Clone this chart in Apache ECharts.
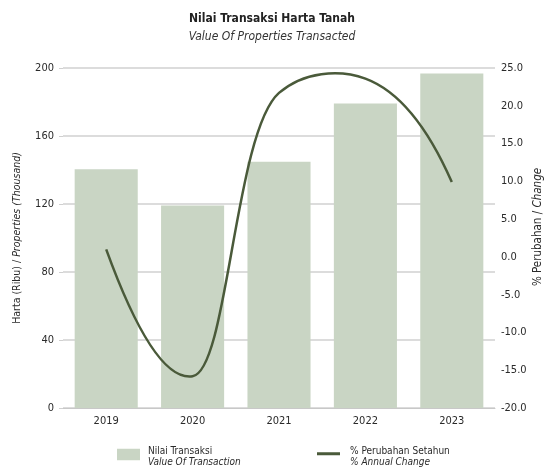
<!DOCTYPE html>
<html>
<head>
<meta charset="utf-8">
<script src="https://cdn.jsdelivr.net/npm/echarts@6/dist/echarts.min.js"></script>
<style>html,body{margin:0;padding:0;background:#fff;}#c{width:544px;height:467px;}</style>
</head>
<body>
<div id="c"></div>
<script>
var categories = ['2019', '2020', '2021', '2022', '2023'];
var transactionValues = [140.4, 119.1, 144.9, 179.1, 196.8];
var annualChange = [1.0, -15.8, 21.7, 23.6, 9.9];
var leftTicks = [0, 40, 80, 120, 160, 200];
var rightTicks = [-20, -15, -10, -5, 0, 5, 10, 15, 20, 25];

var FONT = '"Liberation Sans Narrow", "DejaVu Sans Condensed", "Liberation Sans", sans-serif';
var TXT = '#2a2a2a';
var LINE = '#4a5a3a';

// Centripetal Catmull-Rom spline through the projected points, as cubic beziers.
function smoothPath(pts) {
  var n = pts.length, i;
  function sub(a, b) { return [a[0] - b[0], a[1] - b[1]]; }
  function mul(a, k) { return [a[0] * k, a[1] * k]; }
  function add(a, b) { return [a[0] + b[0], a[1] + b[1]]; }
  var dt = [];
  for (i = 0; i < n - 1; i++) {
    var v = sub(pts[i + 1], pts[i]);
    dt.push(Math.sqrt(Math.sqrt(v[0] * v[0] + v[1] * v[1])) || 1);
  }
  var m = new Array(n);
  for (i = 1; i < n - 1; i++) {
    m[i] = add(sub(mul(sub(pts[i], pts[i - 1]), 1 / dt[i - 1]),
                   mul(sub(pts[i + 1], pts[i - 1]), 1 / (dt[i - 1] + dt[i]))),
               mul(sub(pts[i + 1], pts[i]), 1 / dt[i]));
  }
  m[0] = sub(mul(sub(pts[1], pts[0]), 2 / dt[0]), m[1]);
  m[n - 1] = sub(mul(sub(pts[n - 1], pts[n - 2]), 2 / dt[n - 2]), m[n - 2]);
  var d = 'M' + pts[0][0] + ',' + pts[0][1];
  for (i = 0; i < n - 1; i++) {
    var c1 = add(pts[i], mul(m[i], dt[i] / 3));
    var c2 = sub(pts[i + 1], mul(m[i + 1], dt[i] / 3));
    d += 'C' + c1[0] + ',' + c1[1] + ' ' + c2[0] + ',' + c2[1] + ' ' + pts[i + 1][0] + ',' + pts[i + 1][1];
  }
  return d;
}

var legendRich = {
  a: {fontFamily: FONT, fontSize: 10, color: TXT, lineHeight: 11},
  b: {fontFamily: FONT, fontSize: 10, color: TXT, fontStyle: 'italic', lineHeight: 11}
};

var chart = echarts.init(document.getElementById('c'), null, {renderer: 'canvas'});
chart.setOption({
  animation: false,
  backgroundColor: '#ffffff',
  textStyle: {fontFamily: FONT},
  title: {
    left: 'center', top: 8, itemGap: 6,
    text: 'Nilai Transaksi Harta Tanah',
    subtext: 'Value Of Properties Transacted',
    textStyle: {fontFamily: FONT, fontSize: 12, fontWeight: 'bold', color: '#222'},
    subtextStyle: {fontFamily: FONT, fontSize: 12, fontStyle: 'italic', color: '#333'}
  },
  grid: {left: 63, right: 49, top: 68, bottom: 59, containLabel: false, outerBoundsMode: 'none'},
  legend: [{
    left: 117, top: 446, padding: 0, itemWidth: 23, itemHeight: 15.4,
    data: [{name: 'Nilai Transaksi', icon: 'path://M0,0L23,0L23,11.4L0,11.4Z M0,15.4L0.01,15.4'}],
    formatter: function () { return '{a|Nilai Transaksi}\n{b|Value Of Transaction}'; },
    textStyle: {fontFamily: FONT, padding: [0, 0, 0, 3], rich: legendRich}
  }, {
    left: 317, top: 446, padding: 0, itemWidth: 23, itemHeight: 8.4,
    data: [{name: '% Perubahan Setahun', icon: 'path://M0,0L23,0L23,3L0,3Z M0,8.4L0.01,8.4'}],
    formatter: function () { return '{a|% Perubahan Setahun}\n{b|% Annual Change}'; },
    textStyle: {fontFamily: FONT, padding: [0, 0, 0, 5], rich: legendRich}
  }],
  xAxis: {
    type: 'category', data: categories,
    axisLine: {lineStyle: {color: '#c8c8c8', width: 1}},
    axisTick: {show: false},
    axisLabel: {fontFamily: FONT, fontSize: 11, color: TXT, margin: 8}
  },
  yAxis: [{
    type: 'value', min: 0, max: 200, interval: 40,
    name: '{a|Harta (Ribu) / }{b|Properties (Thousand)}',
    nameLocation: 'middle', nameGap: 40, nameMoveOverlap: false,
    nameTextStyle: {rich: {
      a: {fontFamily: FONT, fontSize: 10.5, color: TXT},
      b: {fontFamily: FONT, fontSize: 10.5, color: TXT, fontStyle: 'italic'}
    }},
    axisLine: {show: false},
    axisTick: {show: true, length: 4, lineStyle: {color: '#d0d0d0'}},
    axisLabel: {fontFamily: FONT, fontSize: 11, color: TXT, margin: 9,
      formatter: function (v) { return leftTicks.indexOf(v) >= 0 ? String(v) : ''; }},
    splitLine: {lineStyle: {color: '#d0d0d0', width: 1.5}}
  }, {
    type: 'value', min: -20, max: 25, interval: 5, position: 'right',
    name: '{a|% Perubahan / }{b|Change}',
    nameLocation: 'middle', nameGap: 37, nameRotate: 90, nameMoveOverlap: false,
    nameTextStyle: {padding: [0, 0, 0, 22], rich: {
      a: {fontFamily: FONT, fontSize: 11.5, color: TXT},
      b: {fontFamily: FONT, fontSize: 11.5, color: TXT, fontStyle: 'italic'}
    }},
    axisLine: {show: false},
    axisTick: {show: false},
    axisLabel: {fontFamily: FONT, fontSize: 11, color: TXT, margin: 6,
      formatter: function (v) { return rightTicks.indexOf(v) >= 0 ? v.toFixed(1) : ''; }},
    splitLine: {show: false}
  }],
  series: [{
    name: 'Nilai Transaksi', type: 'bar', yAxisIndex: 0,
    data: transactionValues, barCategoryGap: '27%',
    itemStyle: {color: '#c9d5c4'}
  }, {
    name: '% Perubahan Setahun', type: 'custom', yAxisIndex: 1,
    coordinateSystem: 'cartesian2d',
    data: annualChange.map(function (v, i) { return [i, v]; }),
    encode: {x: 0, y: 1},
    itemStyle: {color: LINE},
    z: 3,
    renderItem: function (params, api) {
      if (params.dataIndex !== 0) return null;
      var pts = annualChange.map(function (v, i) { return api.coord([i, v]); });
      return {
        type: 'path',
        shape: {pathData: smoothPath(pts)},
        style: {fill: 'none', stroke: LINE, lineWidth: 2.5, lineCap: 'butt', lineJoin: 'round'}
      };
    }
  }]
});
</script>
</body>
</html>
